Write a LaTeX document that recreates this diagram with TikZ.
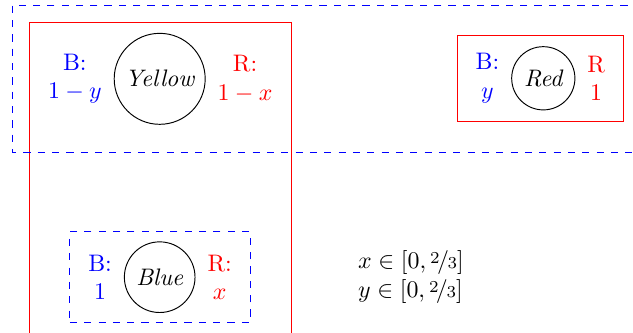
\documentclass[tikz,border=0pt]{standalone}
\usepackage{nicefrac}
\usetikzlibrary{positioning}
\usetikzlibrary{fit}

\begin{document}
\begin{tikzpicture}[
  state/.style={draw, circle, font=\itshape},
  bval/.style={blue, align=center},
  rval/.style={red, align=center},
  group/.style={inner xsep=4.2pt, inner ysep=4pt},
  node distance=1.5pt
]
  \useasboundingbox (0,0) rectangle (9.315,-4.886);
  \clip (0,0) rectangle (9.315,-4.886);

  % states
  \node[state] (yellow) at (2.350,-1.160) {Yellow};
  \node[bval, left=of yellow]  (yellowB) {B:\\$1-y$};
  \node[rval, right=of yellow] (yellowR) {R:\\$1-x$};

  \node[state] (red) at (7.995,-1.152) {Red};
  \node[bval, left=of red]  (redB) {B:\\$y$};
  \node[rval, right=of red] (redR) {R\\$1$};

  \node[state] (blue) at (2.350,-4.079) {Blue};
  \node[bval, left=of blue]  (blueB) {B:\\$1$};
  \node[rval, right=of blue] (blueR) {R:\\$x$};

  % regions
  \node[group, draw=red, fit=(redB)(red)(redR)] (redbox) {};
  \node[group, draw=blue, dashed, fit=(blueB)(blue)(blueR)] (bluebox) {};
  \draw[red] (0.427,-5.4) |- (4.282,-0.324) -- (4.282,-5.4);
  \draw[blue, dashed] (10.5,-0.074) -| (0.177,-2.237) -- (10.5,-2.237);

  \node[anchor=west, align=left] (range) at (5.146,-4.079)
    {$x \in [0,\nicefrac{2}{3}]$\\$y \in [0,\nicefrac{2}{3}]$};
\end{tikzpicture}
\end{document}
